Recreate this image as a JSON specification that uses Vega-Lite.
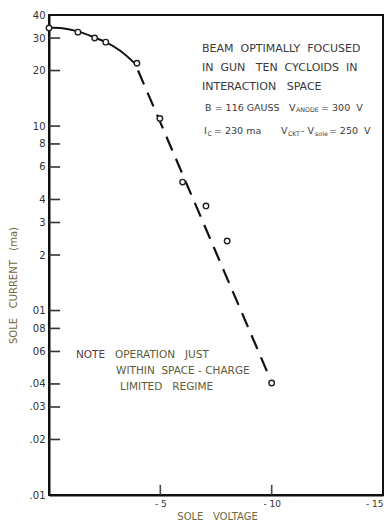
{
  "$schema": "https://vega.github.io/schema/vega-lite/v6.json",
  "width": 334,
  "height": 480,
  "autosize": {"type": "none"},
  "padding": {"left": 49, "top": 15, "right": 1, "bottom": 28},
  "background": "white",
  "config": {
    "view": {"stroke": "#111", "strokeWidth": 2},
    "font": "DejaVu Sans",
    "axis": {"grid": false, "ticks": false, "zindex": 1, "domainColor": "#111", "domainWidth": 2, "labelFont": "DejaVu Sans", "labelColor": "#333", "titleFont": "DejaVu Sans", "titleFontWeight": "normal"}
  },
  "datasets": {
    "points": [
      {"v": 0, "i": 34.0},
      {"v": -1.3, "i": 32.3},
      {"v": -2.05, "i": 30.0},
      {"v": -2.55, "i": 28.5},
      {"v": -3.95, "i": 21.9},
      {"v": -4.98, "i": 11.0},
      {"v": -6.0, "i": 4.97},
      {"v": -7.05, "i": 3.69},
      {"v": -8.0, "i": 2.38},
      {"v": -10.0, "i": 0.405}
    ],
    "curve": [
      {"v": 0, "i": 34.2},
      {"v": -0.6, "i": 33.9},
      {"v": -1.3, "i": 32.6},
      {"v": -2.05, "i": 30.2},
      {"v": -2.55, "i": 28.5},
      {"v": -3.2, "i": 25.6},
      {"v": -3.9, "i": 21.6}
    ],
    "dashed": [
      {"v": -4.0, "i": 20.0},
      {"v": -9.85, "i": 0.45}
    ],
    "yticks": [
      {"a": 0, "b": -0.5, "i": 30}, {"a": 0, "b": -0.5, "i": 20}, {"a": 0, "b": -0.5, "i": 10},
      {"a": 0, "b": -0.5, "i": 8}, {"a": 0, "b": -0.5, "i": 6}, {"a": 0, "b": -0.5, "i": 4},
      {"a": 0, "b": -0.5, "i": 3}, {"a": 0, "b": -0.5, "i": 2}, {"a": 0, "b": -0.5, "i": 1},
      {"a": 0, "b": -0.5, "i": 0.8}, {"a": 0, "b": -0.5, "i": 0.6}, {"a": 0, "b": -0.5, "i": 0.4},
      {"a": 0, "b": -0.5, "i": 0.3}, {"a": 0, "b": -0.5, "i": 0.2}
    ],
    "xticks": [
      {"v": -5, "lo": 0.1, "hi": 0.1135},
      {"v": -10, "lo": 0.1, "hi": 0.1135}
    ],
    "notes_big": [
      {"v": -6.87, "i": 26.14, "t": "BEAM\u00a0\u00a0OPTIMALLY\u00a0\u00a0FOCUSED"},
      {"v": -6.87, "i": 20.75, "t": "IN\u00a0\u00a0GUN\u00a0\u00a0\u00a0TEN\u00a0\u00a0CYCLOIDS\u00a0\u00a0IN"},
      {"v": -6.87, "i": 16.37, "t": "INTERACTION\u00a0\u00a0\u00a0SPACE"}
    ],
    "notes_dark": [
      {"v": -7.01, "i": 12.6, "t": "B = 116 GAUSS"},
      {"v": -10.78, "i": 12.6, "t": "V"},
      {"v": -12.22, "i": 12.6, "t": "=\u00a0300\u00a0\u00a0V"},
      {"v": -6.96, "i": 9.4, "t": "I"},
      {"v": -7.41, "i": 9.4, "t": "= 230 ma"},
      {"v": -10.42, "i": 9.4, "t": "V"},
      {"v": -11.32, "i": 9.4, "t": "- V"},
      {"v": -12.57, "i": 9.4, "t": "=\u00a0250\u00a0\u00a0V"}
    ],
    "notes_sub": [
      {"v": -11.09, "i": 12.15, "t": "ANODE"},
      {"v": -7.12, "i": 9.05, "t": "C"},
      {"v": -10.73, "i": 9.05, "t": "CKT"},
      {"v": -11.95, "i": 9.05, "t": "sole"}
    ],
    "note_red": [
      {"v": -1.21, "i": 0.574, "t": "NOTE"}
    ],
    "note_olive": [
      {"v": -2.96, "i": 0.574, "t": "OPERATION\u00a0\u00a0\u00a0JUST"},
      {"v": -3.01, "i": 0.47, "t": "WITHIN\u00a0\u00a0SPACE - CHARGE"},
      {"v": -3.19, "i": 0.385, "t": "LIMITED\u00a0\u00a0\u00a0REGIME"}
    ]
  },
  "layer": [
    {
      "data": {"name": "curve"},
      "mark": {"type": "line", "interpolate": "monotone", "color": "#111", "strokeWidth": 2},
      "encoding": {
        "x": {"field": "v", "type": "quantitative", "scale": {"domain": [0, -15], "nice": false, "zero": false},
          "axis": {"values": [-5, -10, -15], "labelExpr": "datum.value == -5 ? '- 5' : datum.value == -10 ? '- 10' : '- 15'", "labelPadding": 4, "labelFontSize": 9, "title": "SOLE\u00a0\u00a0\u00a0VOLTAGE", "titleFontSize": 10, "titleColor": "#6f6a3c", "titleX": 168, "titleY": 21, "titleBaseline": "middle"}},
        "y": {"field": "i", "type": "quantitative", "scale": {"type": "log", "domain": [0.1, 40], "nice": false},
          "axis": {"values": [40, 30, 20, 10, 8, 6, 4, 3, 2, 1, 0.8, 0.6, 0.4, 0.3, 0.2, 0.1], "labelExpr": "datum.value == 1 ? '01' : datum.value == 0.8 ? '08' : datum.value == 0.6 ? '06' : datum.value == 0.4 ? '.04' : datum.value == 0.3 ? '.03' : datum.value == 0.2 ? '.02' : datum.value == 0.1 ? '.01' : datum.value + ''", "labelPadding": 4, "labelFontSize": 10, "title": "SOLE\u00a0\u00a0\u00a0CURRENT\u00a0\u00a0\u00a0(ma)", "titleFontSize": 10, "titleColor": "#6f6a3c", "titleX": -36, "titleY": 270, "titleAngle": -90, "titleBaseline": "middle"}}
      }
    },
    {
      "data": {"name": "dashed"},
      "mark": {"type": "line", "color": "#111", "strokeWidth": 2.2, "strokeDash": [15, 9]},
      "encoding": {"x": {"field": "v", "type": "quantitative"}, "y": {"field": "i", "type": "quantitative"}}
    },
    {
      "data": {"name": "points"},
      "mark": {"type": "point", "shape": "circle", "filled": false, "fill": "white", "fillOpacity": 1, "stroke": "#222", "strokeWidth": 1.4, "size": 30, "opacity": 1},
      "encoding": {"x": {"field": "v", "type": "quantitative"}, "y": {"field": "i", "type": "quantitative"}}
    },
    {
      "data": {"name": "notes_big"},
      "mark": {"type": "text", "align": "left", "baseline": "middle", "fontSize": 11, "color": "#3a3a3a"},
      "encoding": {"x": {"field": "v", "type": "quantitative"}, "y": {"field": "i", "type": "quantitative"}, "text": {"field": "t"}}
    },
    {
      "data": {"name": "notes_dark"},
      "mark": {"type": "text", "align": "left", "baseline": "middle", "fontSize": 9.5, "color": "#3a3a3a"},
      "encoding": {"x": {"field": "v", "type": "quantitative"}, "y": {"field": "i", "type": "quantitative"}, "text": {"field": "t"}}
    },
    {
      "data": {"name": "notes_sub"},
      "mark": {"type": "text", "align": "left", "baseline": "middle", "fontSize": 6.3, "color": "#3a3a3a"},
      "encoding": {"x": {"field": "v", "type": "quantitative"}, "y": {"field": "i", "type": "quantitative"}, "text": {"field": "t"}}
    },
    {
      "data": {"name": "note_red"},
      "mark": {"type": "text", "align": "left", "baseline": "middle", "fontSize": 10.5, "color": "#5e3a3e"},
      "encoding": {"x": {"field": "v", "type": "quantitative"}, "y": {"field": "i", "type": "quantitative"}, "text": {"field": "t"}}
    },
    {
      "data": {"name": "note_olive"},
      "mark": {"type": "text", "align": "left", "baseline": "middle", "fontSize": 10.5, "color": "#5c5c3a"},
      "encoding": {"x": {"field": "v", "type": "quantitative"}, "y": {"field": "i", "type": "quantitative"}, "text": {"field": "t"}}
    },
    {
      "data": {"name": "yticks"},
      "mark": {"type": "rule", "color": "#333", "strokeWidth": 1.6},
      "encoding": {"x": {"field": "a", "type": "quantitative"}, "x2": {"field": "b"}, "y": {"field": "i", "type": "quantitative"}}
    },
    {
      "data": {"name": "xticks"},
      "mark": {"type": "rule", "color": "#444", "strokeWidth": 1.6},
      "encoding": {"x": {"field": "v", "type": "quantitative"}, "y": {"field": "lo", "type": "quantitative"}, "y2": {"field": "hi"}}
    }
  ]
}
